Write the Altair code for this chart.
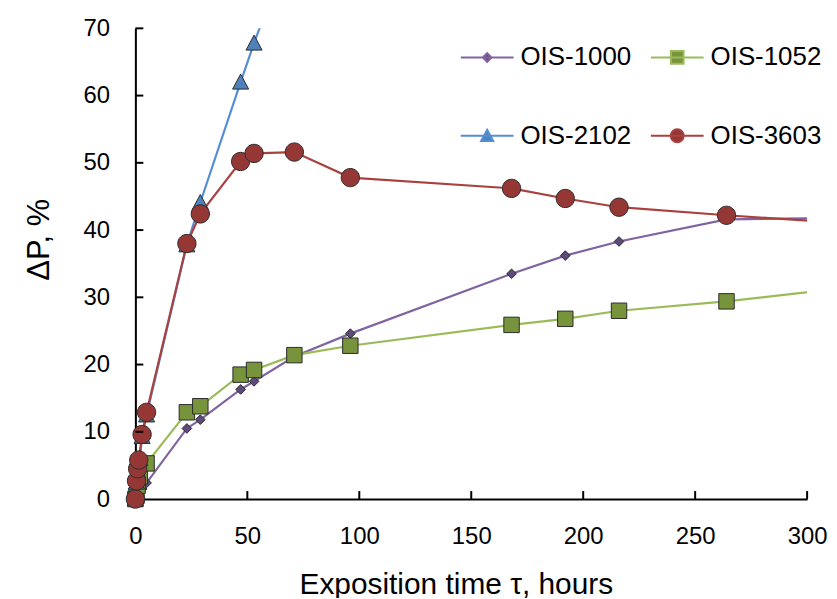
import altair as alt
import pandas as pd

series = ["OIS-1000", "OIS-1052", "OIS-2102", "OIS-3603"]

t_1000 = [0, 1, 2, 3, 5, 23, 29, 47, 53, 71, 96, 168, 192, 216, 264, 336]
p_1000 = [0, 0.5, 1.0, 1.5, 2.4, 10.5, 11.8, 16.3, 17.5, 21.2, 24.6, 33.5, 36.2, 38.3, 41.6, 41.9]

t_1052 = [0, 0.5, 1, 2, 5, 23, 29, 47, 53, 71, 96, 168, 192, 216, 264, 336]
p_1052 = [0, 0.5, 2.0, 3.4, 5.3, 12.9, 13.8, 18.5, 19.2, 21.4, 22.8, 25.9, 26.8, 28.0, 29.4, 32.1]

t_2102 = [0, 0.5, 1, 2, 3, 5, 23, 29, 47, 53, 71]
p_2102 = [0, 2.5, 4.2, 6.0, 9.3, 12.5, 37.8, 44.1, 62.0, 67.8, 84.0]

t_3603 = [0, 0.5, 1, 1.5, 3, 5, 23, 29, 47, 53, 71, 96, 168, 192, 216, 264, 336]
p_3603 = [0, 2.7, 4.5, 5.8, 9.6, 12.9, 38.0, 42.4, 50.2, 51.4, 51.6, 47.8, 46.2, 44.7, 43.4, 42.2, 40.6]

x_ticks = [0, 50, 100, 150, 200, 250, 300]
y_ticks = [0, 10, 20, 30, 40, 50, 60, 70]

line_colors = ["#8064A2", "#9BBB59", "#558ED5", "#A8423F"]
fill_colors = ["#604A7B", "#77933C", "#4F81BD", "#953735"]
shape_paths = [
    "M0,-0.165L0.165,0L0,0.165L-0.165,0Z",
    "M-0.24,-0.24L0.24,-0.24L0.24,0.24L-0.24,0.24Z",
    "M0,-0.23L0.23,0.2L-0.23,0.2Z",
    "M-0.245,0A0.245,0.245,0,1,0,0.245,0A0.245,0.245,0,1,0,-0.245,0Z",
]
# legend keys: a line segment with the marker in its middle
legend_paths = ["M-1,0L1,0" + p for p in shape_paths]
point_sizes = [3460, 5625, 5476, 6016]

rows = []
for name, ts, ps in [("OIS-1000", t_1000, p_1000), ("OIS-1052", t_1052, p_1052),
                     ("OIS-2102", t_2102, p_2102), ("OIS-3603", t_3603, p_3603)]:
    for t, p in zip(ts, ps):
        rows.append({"series": name, "t": t, "p": p})
df = pd.DataFrame(rows)

W, H = 675, 473
FONT = "Liberation Sans"

x_scale = alt.Scale(domain=[0, 300], nice=False, zero=False)
y_scale = alt.Scale(domain=[0, 70], nice=False)

x_axis = alt.Axis(values=x_ticks, title="Exposition time τ, hours", ticks=False,
                  labelPadding=26, grid=False, domainWidth=2, domainColor="black",
                  labelFontSize=24, titleFontSize=30, titlePadding=21, titleX=322,
                  labelFlush=False, labelColor="black", titleColor="black",
                  titleFontWeight="normal", labelFont=FONT, titleFont=FONT)
y_axis = alt.Axis(values=y_ticks, title="ΔP, %", ticks=False,
                  labelPadding=26, grid=False, domainWidth=2, domainColor="black",
                  labelFontSize=24, titleFontSize=31, titlePadding=28, titleY=212,
                  labelColor="black", titleColor="black",
                  titleFontWeight="normal", labelFont=FONT, titleFont=FONT)

x_enc = alt.X("t:Q", scale=x_scale, axis=x_axis)
y_enc = alt.Y("p:Q", scale=y_scale, axis=y_axis)

leg = alt.Legend(title=None, orient="none", legendX=326, legendY=1.5, columns=2,
                 direction="horizontal", symbolSize=2809, symbolStrokeWidth=2,
                 symbolOpacity=1, labelFontSize=26, labelFont=FONT, labelOffset=6,
                 labelColor="black", columnPadding=15, rowPadding=38, padding=0,
                 labelLimit=400)

base = alt.Chart(df)

lines = base.mark_line(clip=True, strokeWidth=2.2).encode(
    x=x_enc, y=y_enc,
    color=alt.Color("series:N", scale=alt.Scale(domain=series, range=line_colors), legend=None),
    order=alt.Order("t:Q"),
)

points = base.transform_filter("datum.t <= 300 && datum.p <= 70").mark_point(
    filled=True, opacity=1, stroke="#2b2b2b", strokeWidth=1
).encode(
    x=x_enc, y=y_enc,
    fill=alt.Fill("series:N", scale=alt.Scale(domain=series, range=fill_colors), legend=None),
    shape=alt.Shape("series:N", scale=alt.Scale(domain=series, range=shape_paths), legend=None),
    size=alt.Size("series:N", scale=alt.Scale(domain=series, range=point_sizes), legend=None),
)

# legend-only layer: its points lie outside the plot and are clipped away
legend_layer = base.transform_filter("datum.t > 300 || datum.p > 70").mark_point(
    clip=True, filled=True, opacity=1, strokeWidth=2
).encode(
    x=x_enc, y=y_enc,
    fill=alt.Fill("series:N", scale=alt.Scale(domain=series, range=fill_colors), legend=leg),
    stroke=alt.Stroke("series:N", scale=alt.Scale(domain=series, range=line_colors), legend=leg),
    shape=alt.Shape("series:N", scale=alt.Scale(domain=series, range=legend_paths), legend=leg),
)

xt = alt.Chart(pd.DataFrame({"t": x_ticks[1:]})).mark_rule(strokeWidth=2, color="black").encode(
    x=x_enc, y=alt.value(H), y2=alt.value(H - 8))
yt = alt.Chart(pd.DataFrame({"p": y_ticks[1:]})).mark_rule(strokeWidth=2, color="black").encode(
    y=y_enc, x=alt.value(0), x2=alt.value(8))

chart = alt.layer(lines, points, legend_layer, xt, yt).resolve_scale(
    fill="independent", shape="independent", size="independent", stroke="independent"
).properties(
    width=W, height=H,
    padding={"left": 128, "top": 19, "right": 22, "bottom": 98},
    autosize=alt.AutoSizeParams(type="none"),
).configure(background="white").configure_view(stroke=None)

chart.save("out.html", embed_options={"renderer": "svg", "actions": False})
